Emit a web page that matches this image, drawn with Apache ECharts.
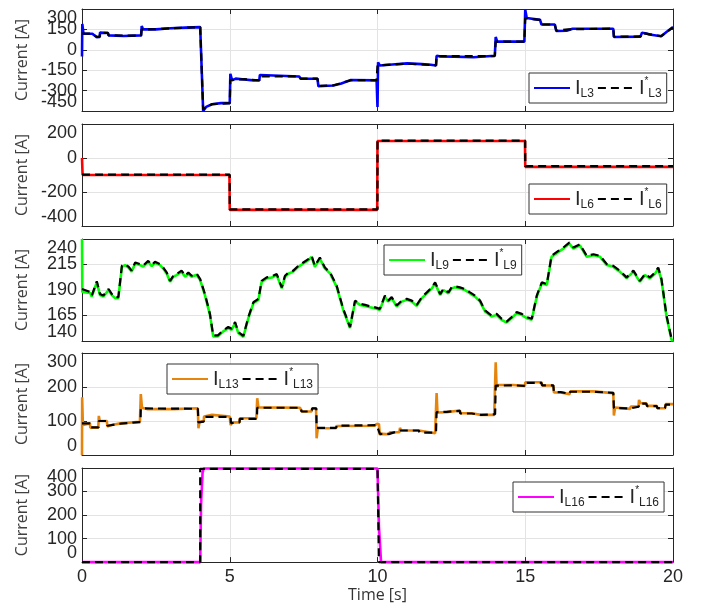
<!DOCTYPE html>
<html>
<head>
<meta charset="utf-8">
<script src="https://cdn.jsdelivr.net/npm/echarts@6.0.0/dist/echarts.min.js"></script>
<style>
html,body{margin:0;padding:0;background:#fff;}
#chart{width:703px;height:604px;}
</style>
</head>
<body>
<div id="chart"></div>
<script>
// ---------- DATA (time [s], current [A]) ----------
const timeTicks = [0, 5, 10, 15, 20];

const iL3 = [[0,-50],[0.01,190],[0.05,120],[0.35,118],[0.5,92],[0.6,95],[0.61,126],[0.88,124],[0.9,106],[1.4,102],[2.0,106],[2.02,175],[2.07,150],[2.5,150],[2.55,157],[3.0,158],[3.05,162],[3.5,163],[3.55,167],[4.0,167],[4.1,-450],[4.2,-420],[4.4,-400],[4.7,-392],[5.0,-392],[5.02,-177],[5.08,-225],[5.2,-212],[5.5,-218],[5.8,-225],[6.0,-225],[6.02,-185],[6.08,-196],[7.35,-196],[7.4,-213],[7.97,-213],[8.0,-268],[8.5,-262],[8.75,-250],[9.1,-222],[9.97,-225],[10.0,-420],[10.02,-92],[10.08,-116],[10.5,-108],[11.0,-100],[11.5,-105],[11.8,-110],[11.98,-116],[12.0,-44],[12.1,-48],[12.6,-50],[13.25,-55],[13.3,-48],[13.97,-44],[14.0,94],[14.05,60],[14.97,60],[15.0,295],[15.05,234],[15.5,220],[15.55,186],[16.0,186],[16.05,138],[16.4,140],[16.45,150],[16.6,155],[17.98,155],[18.0,94],[18.9,97],[18.95,126],[19.1,120],[19.2,112],[19.6,100],[19.8,135],[20,167]];
const iL3ref = [[0,120],[0.35,118],[0.5,95],[0.6,97],[0.61,124],[0.88,124],[0.9,106],[2.0,104],[2.02,150],[2.5,152],[3.0,158],[3.5,163],[4.0,167],[4.1,-440],[4.2,-420],[4.4,-400],[5.0,-392],[5.02,-222],[5.5,-216],[6.0,-224],[6.02,-196],[7.35,-196],[7.4,-212],[7.97,-212],[8.0,-265],[8.5,-262],[9.1,-224],[9.97,-224],[10.0,-115],[11.0,-102],[11.98,-114],[12.0,-46],[13.97,-46],[14.0,60],[14.97,60],[15.0,232],[15.5,220],[15.55,186],[16.0,186],[16.05,140],[16.45,150],[17.98,156],[18.0,96],[18.9,98],[18.95,124],[19.6,100],[20,165]];

const iL6 = [[0,0],[0.02,-100],[4.99,-100],[5.0,-305],[9.99,-305],[10.0,100],[14.99,100],[15.0,-52],[20,-52]];
const iL6ref = [[0,-98],[5,-98],[5,-302],[10,-302],[10,102],[15,102],[15,-48],[20,-48]];

const iL9 = [[0,240],[0.01,188],[0.28,187],[0.33,183.5],[0.5,197.5],[0.61,185],[0.72,183.5],[0.9,190],[1.01,185],[1.12,182],[1.23,182],[1.35,212.7],[1.46,214.4],[1.57,212],[1.68,208],[1.8,216],[1.96,214.4],[2.07,213],[2.24,217.6],[2.36,213.4],[2.47,216.6],[2.64,214.4],[2.75,211],[2.87,206],[2.98,198],[3.09,203],[3.2,204.6],[3.37,208],[3.49,203],[3.6,206],[3.71,203],[3.88,205],[4.0,199.7],[4.16,185],[4.33,165.6],[4.44,144.5],[4.6,144.5],[4.78,149.4],[4.95,152.7],[5.06,151],[5.18,157.5],[5.29,147.8],[5.46,144],[5.63,162.4],[5.8,177],[5.97,180.3],[6.08,198],[6.25,201.4],[6.42,202.3],[6.59,204.6],[6.76,191.6],[6.87,203],[6.98,206],[7.15,208],[7.32,212.7],[7.49,216],[7.66,219.2],[7.77,222.5],[7.88,212.7],[8.05,220.8],[8.22,211],[8.4,206],[8.62,193],[8.84,170.5],[9.07,152.7],[9.24,178.6],[9.41,175.4],[9.58,174.4],[9.75,173],[9.92,172],[10.08,170.5],[10.25,183.5],[10.36,178.6],[10.48,182],[10.65,173.8],[10.82,178.6],[10.99,180.3],[11.16,178.6],[11.33,174.4],[11.5,182],[11.67,186.7],[11.84,191.6],[11.95,196.5],[12.12,185],[12.23,190],[12.4,186.7],[12.51,191.6],[12.62,192.6],[12.79,191.6],[12.96,190],[13.13,186.7],[13.3,183.5],[13.47,178.6],[13.64,169],[13.86,164],[14.03,165.6],[14.2,160.8],[14.37,158],[14.54,162.4],[14.71,167.3],[14.88,165.6],[15.05,162.4],[15.22,160.8],[15.39,183.5],[15.56,196.5],[15.73,194.9],[15.89,222.5],[16.12,227.3],[16.29,230.6],[16.49,235.5],[16.63,230.6],[16.85,233.8],[17.08,222.5],[17.31,224],[17.53,222.5],[17.76,214.4],[17.98,212.7],[18.2,208],[18.43,201.4],[18.66,208],[18.88,198],[19.05,204.6],[19.22,201.4],[19.39,206],[19.5,211],[19.61,199.7],[19.78,164],[19.95,141.3],[20,140]];
const iL9ref = [[0,191],[0.28,188],[0.33,184.5],[0.5,198.5],[0.61,186],[0.72,184.5],[0.9,191],[1.01,186],[1.12,183],[1.23,183],[1.35,213.7],[1.46,215.4],[1.57,213],[1.68,209],[1.8,217],[1.96,215.4],[2.07,214],[2.24,218.6],[2.36,214.4],[2.47,217.6],[2.64,215.4],[2.75,212],[2.87,207],[2.98,199],[3.09,204],[3.2,205.6],[3.37,209],[3.49,204],[3.6,207],[3.71,204],[3.88,206],[4.0,200.7],[4.16,186],[4.33,166.6],[4.44,145.5],[4.6,145.5],[4.78,150.4],[4.95,153.7],[5.06,152],[5.18,158.5],[5.29,148.8],[5.46,145],[5.63,163.4],[5.8,178],[5.97,181.3],[6.08,199],[6.25,202.4],[6.42,203.3],[6.59,205.6],[6.76,192.6],[6.87,204],[6.98,207],[7.15,209],[7.32,213.7],[7.49,217],[7.66,220.2],[7.77,223.5],[7.88,213.7],[8.05,221.8],[8.22,212],[8.4,207],[8.62,194],[8.84,171.5],[9.07,153.7],[9.24,179.6],[9.41,176.4],[9.58,175.4],[9.75,174],[9.92,173],[10.08,171.5],[10.25,184.5],[10.36,179.6],[10.48,183],[10.65,174.8],[10.82,179.6],[10.99,181.3],[11.16,179.6],[11.33,175.4],[11.5,183],[11.67,187.7],[11.84,192.6],[11.95,197.5],[12.12,186],[12.23,191],[12.4,187.7],[12.51,192.6],[12.62,193.6],[12.79,192.6],[12.96,191],[13.13,187.7],[13.3,184.5],[13.47,179.6],[13.64,170],[13.86,165],[14.03,166.6],[14.2,161.8],[14.37,159],[14.54,163.4],[14.71,168.3],[14.88,166.6],[15.05,163.4],[15.22,161.8],[15.39,184.5],[15.56,197.5],[15.73,195.9],[15.89,223.5],[16.12,228.3],[16.29,231.6],[16.49,236.5],[16.63,231.6],[16.85,234.8],[17.08,223.5],[17.31,225],[17.53,223.5],[17.76,215.4],[17.98,213.7],[18.2,209],[18.43,202.4],[18.66,209],[18.88,199],[19.05,205.6],[19.22,202.4],[19.39,207],[19.5,212],[19.61,200.7],[19.78,165],[19.95,142.3],[20,141]];

const iL13 = [[0,0],[0.005,170],[0.03,88],[0.27,93],[0.28,80.6],[0.55,80.6],[0.57,115],[0.6,100],[0.84,100],[0.86,84],[1.0,88],[1.3,93],[1.96,98],[1.99,179],[2.03,139],[2.2,135],[3.1,135],[3.15,137.6],[3.92,137.6],[3.94,78.6],[3.98,98],[4.12,100],[4.13,113],[4.4,118],[4.45,113],[5.0,113],[5.03,88],[5.08,96],[5.33,96],[5.34,108],[5.9,108],[5.93,167],[5.97,140],[7.38,139],[7.43,128],[7.77,128],[7.79,137.6],[7.92,137.6],[7.94,49],[7.98,78.6],[8.6,78.6],[8.62,85.5],[9.9,86],[9.97,91],[10.05,91],[10.08,59],[10.15,62],[10.4,61],[10.42,67],[10.74,67],[10.76,80],[10.8,72],[11.4,72],[11.42,67],[11.95,64],[12.0,182],[12.03,125],[12.34,126],[12.36,131],[12.79,131],[12.8,123],[13.18,123],[13.2,118],[13.5,118],[13.52,123],[13.95,118],[14.0,273],[14.03,201],[14.1,206],[14.6,206],[14.62,203],[14.99,203],[15.0,214],[15.55,214],[15.57,204.5],[15.95,204.5],[15.97,184],[16.2,184],[16.22,179],[16.5,179],[16.52,187],[17.3,187],[17.32,182],[17.98,182],[18.0,116],[18.04,139.6],[18.1,135.7],[18.55,135.7],[18.57,142.5],[18.83,142.5],[18.85,162],[18.9,152],[19.1,152],[19.12,144.5],[19.45,144.5],[19.47,137.6],[19.73,137.6],[19.75,149.5],[20,149.5]];
const iL13ref = [[0,93],[0.27,93],[0.28,81],[0.56,81],[0.57,100],[0.85,100],[0.86,86],[1.3,92],[1.98,97],[1.99,137],[3.92,136],[3.94,96],[4.12,98],[4.13,112],[5.03,112],[5.04,94],[5.33,96],[5.34,106],[5.92,106],[5.93,139],[7.4,139],[7.43,128],[7.77,128],[7.79,137],[7.93,137],[7.94,80],[8.6,80],[8.62,86],[9.97,88],[10.08,62],[10.4,62],[10.42,67],[10.76,72],[11.4,72],[11.42,66],[11.98,66],[12.0,126],[12.34,127],[12.36,130],[12.79,130],[12.8,122],[13.19,122],[13.2,118],[13.5,118],[13.52,122],[13.98,120],[14.0,204],[14.6,205],[14.62,203],[15.0,203],[15.0,212],[15.55,212],[15.57,205],[15.95,205],[15.97,185],[16.2,185],[16.22,180],[16.5,180],[16.52,186],[17.3,186],[17.32,183],[17.98,183],[18.0,138],[18.55,137],[18.57,142],[18.84,142],[18.85,151],[19.1,151],[19.12,144],[19.45,144],[19.47,138],[19.73,138],[19.75,148],[20,148]];

const iL16 = [[0,0],[4.0,0],[4.03,250],[4.08,380],[4.12,398],[10.0,398],[10.05,150],[10.12,0],[20,0]];
const iL16ref = [[0,0],[4.0,0],[4.0,396],[10.0,396],[10.05,0],[20,0]];

const panels = [
  {name:'L3',  color:'#0000ff', meas:iL3,  ref:iL3ref,  min:-450, max:300, step:150},
  {name:'L6',  color:'#ff0000', meas:iL6,  ref:iL6ref,  min:-400, max:200, step:200},
  {name:'L9',  color:'#00ff00', meas:iL9,  ref:iL9ref,  min:140,  max:240, step:25},
  {name:'L13', color:'#e6850e', meas:iL13, ref:iL13ref, min:0,    max:300, step:100},
  {name:'L16', color:'#ff00ff', meas:iL16, ref:iL16ref, min:0,    max:400, step:100}
];
// legend boxes: [left, top]
const legendPos = [[529,73],[529,184],[384,245],[167,364],[513,482]];
const gridTops = [9, 124, 239, 353, 468];

// ---------- OPTION ----------
const AX = '#262626';
const GRIDC = '#e3e3e3';
const FONT = 'Liberation Sans, Arial, sans-serif';
const grids = [], xAxes = [], yAxes = [], series = [], legends = [];
const nameMap = {};
panels.forEach((p, i) => {
  grids.push({left:82, right:30, top:gridTops[i], height:102, containLabel:false});
  const last = i === panels.length - 1;
  xAxes.push({
    type:'value', gridIndex:i, min:0, max:20, interval:5, position:'bottom',
    axisLine:{show:true, onZero:false, lineStyle:{color:AX, width:1}},
    axisTick:{show:true, inside:true, length:5, lineStyle:{color:AX}},
    axisLabel:{show:last, fontSize:18, color:AX, fontFamily:FONT, margin:6,
      showMinLabel:true, showMaxLabel:true,
      formatter: v => timeTicks.includes(v) ? String(v) : ''},
    splitLine:{show:true, lineStyle:{color:GRIDC, width:1}},
    name: last ? 'Time [s]' : '', nameLocation:'middle', nameGap:14,
    nameTextStyle:{fontSize:16, color:'#333', fontFamily:'Open Sans, sans-serif'}
  });
  // main left axis: shows only end labels (aligned inward like the original)
  yAxes.push({
    type:'value', gridIndex:i, min:p.min, max:p.max, interval:p.step, position:'left',
    axisLine:{show:true, onZero:false, lineStyle:{color:AX, width:1}},
    axisTick:{show:true, inside:true, length:5, lineStyle:{color:AX}},
    axisLabel:{fontSize:18, color:AX, fontFamily:FONT, margin:5,
      showMinLabel:true, showMaxLabel:true,
      verticalAlignMaxLabel:'top', verticalAlignMinLabel:'bottom',
      formatter: v => (v === p.min || v === p.max) ? String(v) : ''},
    splitLine:{show:true, lineStyle:{color:GRIDC, width:1}},
    name:'Current [A]', nameLocation:'middle', nameRotate:90, nameGap:52,
    nameTextStyle:{fontSize:16, color:'#404040', fontFamily:'Open Sans, sans-serif'}
  });
  const mName = 'I_' + p.name, rName = 'I*_' + p.name;
  nameMap[mName] = '{m|I}{s|' + p.name + '}';
  nameMap[rName] = '{m|I}{t|*}{s|' + p.name + '}';
  series.push({
    name:mName, type:'line', xAxisIndex:i, yAxisIndex:i, data:p.meas,
    showSymbol:false, symbol:'none', clip:false,
    lineStyle:{color:p.color, width:2.6}, itemStyle:{color:p.color}, z:2
  });
  series.push({
    name:rName, type:'line', xAxisIndex:i, yAxisIndex:i, data:p.ref,
    showSymbol:false, symbol:'none', clip:false,
    lineStyle:{color:'#000', width:2.2, type:[8,5]}, itemStyle:{color:'#000'}, z:3
  });
  legends.push({
    data:[mName, rName], left:legendPos[i][0], top:legendPos[i][1],
    orient:'horizontal', itemWidth:36, itemHeight:14, itemGap:3,
    padding:[3,5,3,4], borderColor:'#333', borderWidth:1, backgroundColor:'#fff',
    selectedMode:false,
    itemStyle:{opacity:0, borderWidth:0},
    formatter: n => nameMap[n],
    textStyle:{color:AX, fontFamily:FONT,
      rich:{
        m:{fontSize:20, color:AX, fontFamily:FONT, lineHeight:24},
        s:{fontSize:12, color:AX, fontFamily:FONT, verticalAlign:'bottom', lineHeight:12, padding:[9,0,0,0]},
        t:{fontSize:10, color:AX, fontFamily:FONT, verticalAlign:'top', lineHeight:10, padding:[0,0,10,0]}
      }}
  });
});
// mirrored box axes (top / right) and inner tick-label axes
panels.forEach((p, i) => {
  xAxes.push({
    type:'value', gridIndex:i, min:0, max:20, interval:5, position:'top',
    axisLine:{show:true, onZero:false, lineStyle:{color:AX, width:1}},
    axisTick:{show:true, inside:true, length:5, lineStyle:{color:AX}},
    axisLabel:{show:false}, splitLine:{show:false}
  });
  yAxes.push({
    type:'value', gridIndex:i, min:p.min, max:p.max, interval:p.step, position:'right',
    axisLine:{show:true, onZero:false, lineStyle:{color:AX, width:1}},
    axisTick:{show:true, inside:true, length:5, lineStyle:{color:AX}},
    axisLabel:{show:false}, splitLine:{show:false}
  });
});
panels.forEach((p, i) => {
  yAxes.push({
    type:'value', gridIndex:i, min:p.min, max:p.max, interval:p.step, position:'left', offset:0,
    axisLine:{show:false}, axisTick:{show:false}, splitLine:{show:false},
    axisLabel:{fontSize:18, color:AX, fontFamily:FONT, margin:5,
      showMinLabel:false, showMaxLabel:false,
      formatter: v => (v === p.min || v === p.max) ? '' : String(v)}
  });
});

const chart = echarts.init(document.getElementById('chart'), null, {renderer:'canvas'});
chart.setOption({
  animation:false,
  backgroundColor:'#fff',
  grid:grids, xAxis:xAxes, yAxis:yAxes, legend:legends, series:series
});
</script>
</body>
</html>
